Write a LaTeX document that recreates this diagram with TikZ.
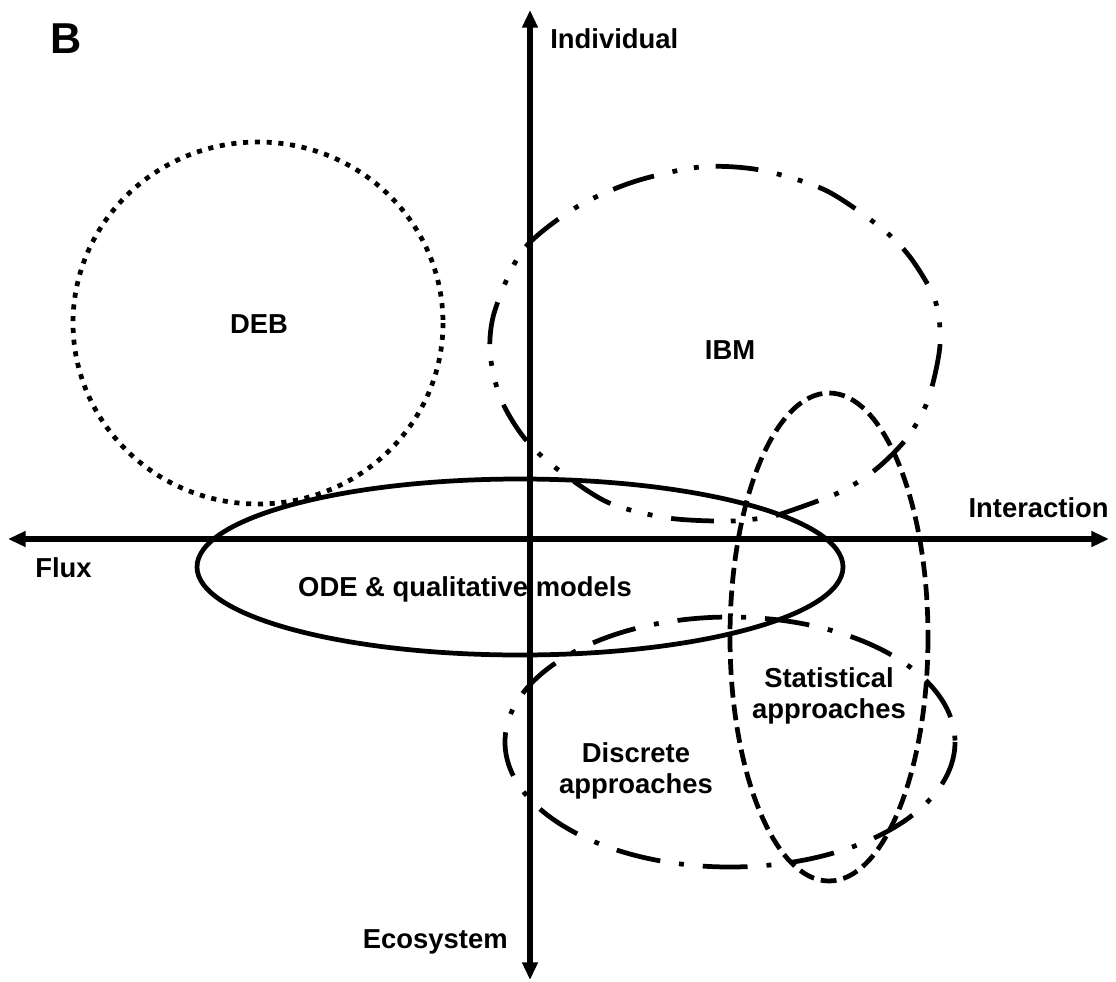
\documentclass[tikz,border=0pt]{standalone}
\usepackage{fontspec}
\setmainfont{Liberation Sans}
\usetikzlibrary{arrows.meta}
\tikzset{x=0.02cm,y=-0.02cm,
  axisline/.style={line width=3pt,{Triangle[length=10pt,width=8.5pt]}-{Triangle[length=10pt,width=8.5pt]}},
  lbl/.style={font=\bfseries\fontsize{15.6}{17.6}\selectfont,inner sep=0pt,align=center},
  region/.style={line width=2.7pt},
  debline/.style={region,dash pattern=on 2.9pt off 3.8pt},
  ibmline/.style={region,dash pattern=on 24.4pt off 9.6pt on 2.8pt off 9.6pt on 2.8pt off 10.8pt},
  statline/.style={region,dash pattern=on 9pt off 4pt},
  discline/.style={region,dash pattern=on 25.5pt off 10.8pt on 2.8pt off 10.8pt}}
\begin{document}
\begin{tikzpicture}
  \useasboundingbox (0,0) rectangle (1116,981);

  \coordinate (flux)        at (8,539);
  \coordinate (interaction) at (1109,539);
  \coordinate (ecosystem)   at (530,980);
  \coordinate (individual)  at (530,10);

  \draw [axisline] (flux)      -- (interaction);
  \draw [axisline] (ecosystem) -- (individual);

  \node [lbl,anchor=base west,font=\bfseries\fontsize{24.6}{28}\selectfont] (panel) at (50,53) {B};
  \node [lbl,anchor=base west] (indlbl)  at (550,48)  {Individual};
  \node [lbl,anchor=base east] (intlbl)  at (1109,517) {Interaction};
  \node [lbl,anchor=base west] (fluxlbl) at (35,577)  {Flux};
  \node [lbl,anchor=base east] (ecolbl)  at (508,948) {Ecosystem};

  \draw [debline]  (258,323) ellipse [x radius=185, y radius=181];
  \draw [region]   (520,567) ellipse [x radius=323, y radius=88];
  \draw [statline] (829,637) ellipse [x radius=99,  y radius=244];
  \draw [discline] (730,742) ellipse [x radius=225, y radius=125];
  \draw [ibmline]  plot [smooth] coordinates {(778,515) (838,493) (875,470) (907,438)
    (928,400) (940,345) (935,300) (910,257) (880,227) (825,190) (760,170) (700,167)
    (633,182) (575,208) (523,250) (495,310) (490,352) (500,397) (522,435) (552,465)
    (607,502) (668,518) (735,521) (778,515)};

  \node [lbl,anchor=base] (deb)  at (259,333) {DEB};
  \node [lbl,anchor=base] (ibm)  at (730,359) {IBM};
  \node [lbl,anchor=base] (ode)  at (465,596) {ODE \& qualitative models};
  \node [lbl,anchor=base] (stat) at (829,718) {Statistical\\approaches};
  \node [lbl,anchor=base] (disc) at (636,793) {Discrete\\approaches};
\end{tikzpicture}
\end{document}
